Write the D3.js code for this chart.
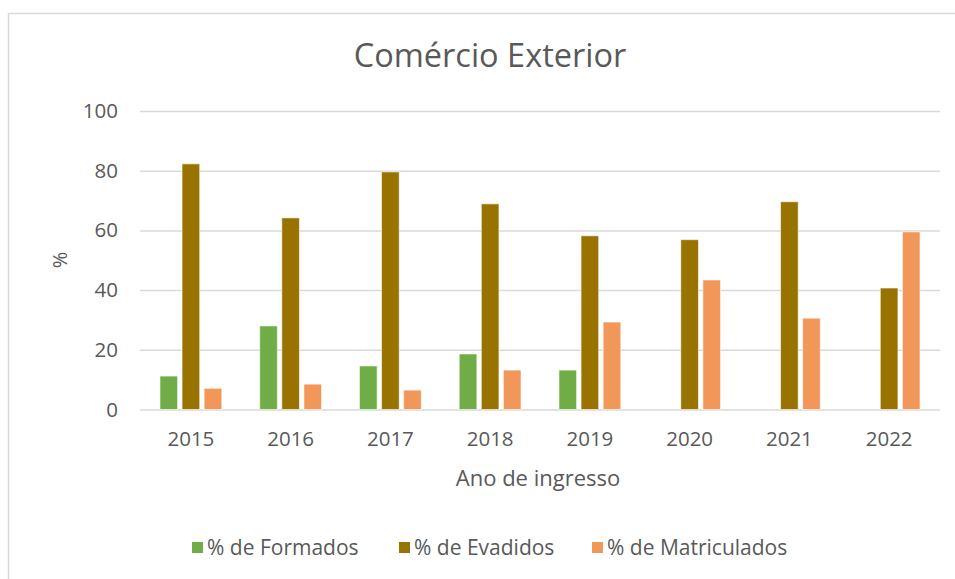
<!DOCTYPE html>
<html lang="pt">
  <head>
    <meta charset="UTF-8" />
    <title>Comércio Exterior</title>
    <style>
      body { margin: 0; background: #fff; }
      svg text { font-family: "Open Sans", sans-serif; fill: #595959; }
    </style>
  </head>
  <body>
    <script src="https://cdn.jsdelivr.net/npm/d3@7"></script>
    <script>
      // data
      var anos = ["2015", "2016", "2017", "2018", "2019", "2020", "2021", "2022"];
      var series = ["% de Formados", "% de Evadidos", "% de Matriculados"];
      var formados = [11.2, 28.0, 14.6, 18.6, 13.2, null, null, null];
      var evadidos = [82.3, 64.2, 79.6, 68.9, 58.2, 56.9, 69.6, 40.7];
      var matriculados = [7.1, 8.5, 6.5, 13.2, 29.3, 43.4, 30.6, 59.5];
      var yTicks = [0, 20, 40, 60, 80, 100];
      var colors = ["#70ad47", "#997300", "#f1975a"];

      var w = 955, h = 579;
      var margin = { top: 111, right: 15, bottom: 170, left: 140 };

      var data = anos.map(function(a, i) {
        return { ano: a, values: [formados[i], evadidos[i], matriculados[i]] };
      });

      var svg = d3.select("body").append("svg")
        .attr("width", w)
        .attr("height", h);

      // outer border
      svg.append("rect")
        .attr("x", 8.5).attr("y", 13.5)
        .attr("width", 1000).attr("height", 700)
        .attr("fill", "none")
        .attr("stroke", "#d9d9d9")
        .attr("stroke-width", 1.5);

      var xScale = d3.scaleBand()
        .domain(anos)
        .range([margin.left, w - margin.right])
        .paddingInner(0.38)
        .paddingOuter(0.2);

      var x1 = d3.scaleBand()
        .domain(d3.range(series.length))
        .range([0, xScale.bandwidth()])
        .paddingInner(0.2);

      var yScale = d3.scaleLinear()
        .domain([0, 100])
        .range([409.5, margin.top]);

      // gridlines
      var yAxis = d3.axisLeft(yScale)
        .tickValues(yTicks)
        .tickSize(-(w - margin.right - margin.left))
        .tickPadding(22);

      var gy = svg.append("g")
        .attr("transform", "translate(" + margin.left + ",0)")
        .call(yAxis);
      gy.select(".domain").remove();
      gy.selectAll("line").attr("stroke", "#d9d9d9").attr("stroke-width", 1.5);
      gy.selectAll("text")
        .style("font-size", "20.5px")
        .attr("fill", "#595959");

      // bars
      var groups = svg.selectAll(".grp")
        .data(data)
        .enter()
        .append("g")
        .attr("class", "grp")
        .attr("transform", function(d) { return "translate(" + xScale(d.ano) + ",0)"; });

      groups.selectAll("rect")
        .data(function(d) {
          return d.values.map(function(v, i) { return { i: i, v: v }; })
            .filter(function(e) { return e.v != null; });
        })
        .enter()
        .append("rect")
        .attr("x", function(d) { return x1(d.i); })
        .attr("width", x1.bandwidth())
        .attr("y", function(d) { return yScale(d.v); })
        .attr("height", function(d) { return yScale(0) - yScale(d.v); })
        .attr("fill", function(d) { return colors[d.i]; })
        .attr("stroke", "#fff")
        .attr("stroke-opacity", 0.6)
        .attr("stroke-width", 1);

      // x axis labels
      var xAxis = d3.axisBottom(xScale).tickSize(0).tickPadding(22);
      var gx = svg.append("g")
        .attr("transform", "translate(0," + yScale(0) + ")")
        .call(xAxis);
      gx.select(".domain").remove();
      gx.selectAll("text")
        .style("font-size", "20.5px")
        .attr("fill", "#595959");

      // title
      svg.append("text")
        .attr("x", 490)
        .attr("y", 67)
        .attr("text-anchor", "middle")
        .style("font-size", "32.5px")
        .text("Comércio Exterior");

      // axis titles
      svg.append("text")
        .attr("x", 538)
        .attr("y", 486)
        .attr("text-anchor", "middle")
        .style("font-size", "22px")
        .text("Ano de ingresso");

      svg.append("text")
        .attr("transform", "translate(67,260) rotate(-90)")
        .attr("text-anchor", "middle")
        .style("font-size", "20px")
        .text("%");

      // legend
      var legX = [192, 399, 592];
      var leg = svg.selectAll(".leg")
        .data(series)
        .enter()
        .append("g")
        .attr("class", "leg")
        .attr("transform", function(d, i) { return "translate(" + legX[i] + ",542)"; });

      leg.append("rect")
        .attr("width", 11)
        .attr("height", 11)
        .attr("fill", function(d, i) { return colors[i]; });

      leg.append("text")
        .attr("x", 15)
        .attr("y", 12.5)
        .style("font-size", "21px")
        .text(function(d) { return d; });
    </script>
  </body>
</html>
